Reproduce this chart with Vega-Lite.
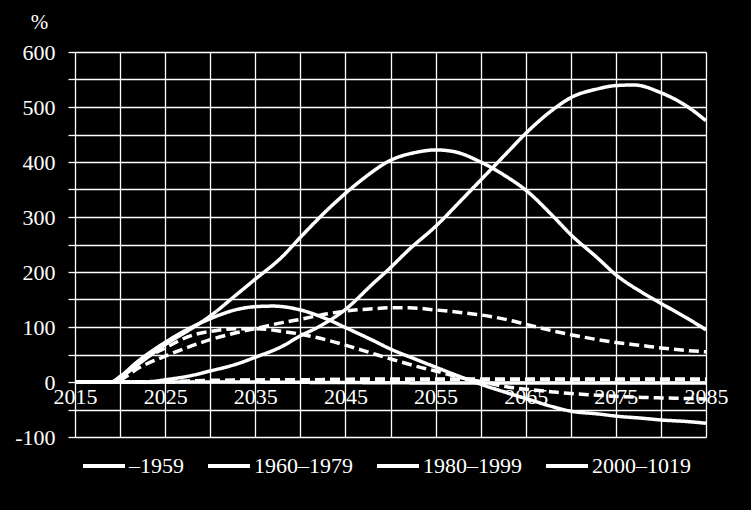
{
"$schema": "https://vega.github.io/schema/vega-lite/v6.json",
"width": 631, "height": 385,
"autosize": {"type": "none"},
"padding": {"left": 75, "top": 52, "right": 45, "bottom": 73},
"background": "black",
"config": {"view": {"stroke": null}, "font": "Liberation Serif"},
"datasets": {
"s": [
{"cohort":"2000–1019","kind":"solid","year":2015,"value":0},{"cohort":"2000–1019","kind":"solid","year":2020,"value":0},{"cohort":"2000–1019","kind":"solid","year":2023,"value":0},{"cohort":"2000–1019","kind":"solid","year":2025,"value":4},{"cohort":"2000–1019","kind":"solid","year":2028,"value":12},{"cohort":"2000–1019","kind":"solid","year":2030,"value":20},{"cohort":"2000–1019","kind":"solid","year":2033,"value":33},{"cohort":"2000–1019","kind":"solid","year":2035,"value":45},{"cohort":"2000–1019","kind":"solid","year":2038,"value":65},{"cohort":"2000–1019","kind":"solid","year":2040,"value":84},{"cohort":"2000–1019","kind":"solid","year":2042,"value":100},{"cohort":"2000–1019","kind":"solid","year":2045,"value":132},{"cohort":"2000–1019","kind":"solid","year":2048,"value":178},{"cohort":"2000–1019","kind":"solid","year":2050,"value":208},{"cohort":"2000–1019","kind":"solid","year":2052,"value":240},{"cohort":"2000–1019","kind":"solid","year":2055,"value":283},{"cohort":"2000–1019","kind":"solid","year":2058,"value":333},{"cohort":"2000–1019","kind":"solid","year":2060,"value":367},{"cohort":"2000–1019","kind":"solid","year":2063,"value":418},{"cohort":"2000–1019","kind":"solid","year":2065,"value":452},{"cohort":"2000–1019","kind":"solid","year":2068,"value":495},{"cohort":"2000–1019","kind":"solid","year":2070,"value":517},{"cohort":"2000–1019","kind":"solid","year":2073,"value":533},{"cohort":"2000–1019","kind":"solid","year":2075,"value":539},{"cohort":"2000–1019","kind":"solid","year":2077,"value":540},{"cohort":"2000–1019","kind":"solid","year":2080,"value":526},{"cohort":"2000–1019","kind":"solid","year":2083,"value":500},{"cohort":"2000–1019","kind":"solid","year":2085,"value":475},

{"cohort":"1980–1999","kind":"solid","year":2015,"value":0},{"cohort":"1980–1999","kind":"solid","year":2019,"value":0},{"cohort":"1980–1999","kind":"solid","year":2020,"value":8},{"cohort":"1980–1999","kind":"solid","year":2022,"value":32},{"cohort":"1980–1999","kind":"solid","year":2025,"value":68},{"cohort":"1980–1999","kind":"solid","year":2028,"value":98},{"cohort":"1980–1999","kind":"solid","year":2030,"value":120},{"cohort":"1980–1999","kind":"solid","year":2033,"value":160},{"cohort":"1980–1999","kind":"solid","year":2035,"value":187},{"cohort":"1980–1999","kind":"solid","year":2038,"value":228},{"cohort":"1980–1999","kind":"solid","year":2040,"value":263},{"cohort":"1980–1999","kind":"solid","year":2043,"value":313},{"cohort":"1980–1999","kind":"solid","year":2045,"value":343},{"cohort":"1980–1999","kind":"solid","year":2047,"value":370},{"cohort":"1980–1999","kind":"solid","year":2050,"value":403},{"cohort":"1980–1999","kind":"solid","year":2053,"value":418},{"cohort":"1980–1999","kind":"solid","year":2055,"value":422},{"cohort":"1980–1999","kind":"solid","year":2057,"value":419},{"cohort":"1980–1999","kind":"solid","year":2060,"value":400},{"cohort":"1980–1999","kind":"solid","year":2063,"value":372},{"cohort":"1980–1999","kind":"solid","year":2065,"value":349},{"cohort":"1980–1999","kind":"solid","year":2068,"value":302},{"cohort":"1980–1999","kind":"solid","year":2070,"value":268},{"cohort":"1980–1999","kind":"solid","year":2073,"value":225},{"cohort":"1980–1999","kind":"solid","year":2075,"value":195},{"cohort":"1980–1999","kind":"solid","year":2078,"value":162},{"cohort":"1980–1999","kind":"solid","year":2080,"value":143},{"cohort":"1980–1999","kind":"solid","year":2083,"value":115},{"cohort":"1980–1999","kind":"solid","year":2085,"value":95},

{"cohort":"1960–1979","kind":"solid","year":2015,"value":0},{"cohort":"1960–1979","kind":"solid","year":2019,"value":0},{"cohort":"1960–1979","kind":"solid","year":2020,"value":10},{"cohort":"1960–1979","kind":"solid","year":2022,"value":38},{"cohort":"1960–1979","kind":"solid","year":2025,"value":72},{"cohort":"1960–1979","kind":"solid","year":2028,"value":100},{"cohort":"1960–1979","kind":"solid","year":2030,"value":115},{"cohort":"1960–1979","kind":"solid","year":2033,"value":132},{"cohort":"1960–1979","kind":"solid","year":2035,"value":137},{"cohort":"1960–1979","kind":"solid","year":2037,"value":138},{"cohort":"1960–1979","kind":"solid","year":2040,"value":131},{"cohort":"1960–1979","kind":"solid","year":2043,"value":114},{"cohort":"1960–1979","kind":"solid","year":2045,"value":99},{"cohort":"1960–1979","kind":"solid","year":2048,"value":76},{"cohort":"1960–1979","kind":"solid","year":2050,"value":60},{"cohort":"1960–1979","kind":"solid","year":2053,"value":40},{"cohort":"1960–1979","kind":"solid","year":2055,"value":27},{"cohort":"1960–1979","kind":"solid","year":2058,"value":8},{"cohort":"1960–1979","kind":"solid","year":2060,"value":-4},{"cohort":"1960–1979","kind":"solid","year":2063,"value":-20},{"cohort":"1960–1979","kind":"solid","year":2065,"value":-30},{"cohort":"1960–1979","kind":"solid","year":2068,"value":-45},{"cohort":"1960–1979","kind":"solid","year":2070,"value":-53},{"cohort":"1960–1979","kind":"solid","year":2073,"value":-58},{"cohort":"1960–1979","kind":"solid","year":2075,"value":-62},{"cohort":"1960–1979","kind":"solid","year":2078,"value":-66},{"cohort":"1960–1979","kind":"solid","year":2080,"value":-69},{"cohort":"1960–1979","kind":"solid","year":2083,"value":-72},{"cohort":"1960–1979","kind":"solid","year":2085,"value":-75},

{"cohort":"–1959","kind":"solid","year":2015,"value":0},{"cohort":"–1959","kind":"solid","year":2030,"value":0},{"cohort":"–1959","kind":"solid","year":2045,"value":-1},{"cohort":"–1959","kind":"solid","year":2060,"value":-2},{"cohort":"–1959","kind":"solid","year":2085,"value":-2},

{"cohort":"1980–1999","kind":"dashed","year":2015,"value":0},{"cohort":"1980–1999","kind":"dashed","year":2019,"value":0},{"cohort":"1980–1999","kind":"dashed","year":2020,"value":4},{"cohort":"1980–1999","kind":"dashed","year":2022,"value":25},{"cohort":"1980–1999","kind":"dashed","year":2025,"value":47},{"cohort":"1980–1999","kind":"dashed","year":2028,"value":66},{"cohort":"1980–1999","kind":"dashed","year":2030,"value":77},{"cohort":"1980–1999","kind":"dashed","year":2033,"value":90},{"cohort":"1980–1999","kind":"dashed","year":2035,"value":97},{"cohort":"1980–1999","kind":"dashed","year":2038,"value":108},{"cohort":"1980–1999","kind":"dashed","year":2040,"value":114},{"cohort":"1980–1999","kind":"dashed","year":2043,"value":124},{"cohort":"1980–1999","kind":"dashed","year":2045,"value":129},{"cohort":"1980–1999","kind":"dashed","year":2048,"value":133},{"cohort":"1980–1999","kind":"dashed","year":2050,"value":135},{"cohort":"1980–1999","kind":"dashed","year":2052,"value":135},{"cohort":"1980–1999","kind":"dashed","year":2055,"value":131},{"cohort":"1980–1999","kind":"dashed","year":2058,"value":126},{"cohort":"1980–1999","kind":"dashed","year":2060,"value":122},{"cohort":"1980–1999","kind":"dashed","year":2063,"value":113},{"cohort":"1980–1999","kind":"dashed","year":2065,"value":105},{"cohort":"1980–1999","kind":"dashed","year":2068,"value":93},{"cohort":"1980–1999","kind":"dashed","year":2070,"value":86},{"cohort":"1980–1999","kind":"dashed","year":2073,"value":77},{"cohort":"1980–1999","kind":"dashed","year":2075,"value":72},{"cohort":"1980–1999","kind":"dashed","year":2078,"value":66},{"cohort":"1980–1999","kind":"dashed","year":2080,"value":62},{"cohort":"1980–1999","kind":"dashed","year":2083,"value":57},{"cohort":"1980–1999","kind":"dashed","year":2085,"value":55},

{"cohort":"1960–1979","kind":"dashed","year":2015,"value":0},{"cohort":"1960–1979","kind":"dashed","year":2019,"value":0},{"cohort":"1960–1979","kind":"dashed","year":2020,"value":8},{"cohort":"1960–1979","kind":"dashed","year":2022,"value":35},{"cohort":"1960–1979","kind":"dashed","year":2025,"value":62},{"cohort":"1960–1979","kind":"dashed","year":2028,"value":85},{"cohort":"1960–1979","kind":"dashed","year":2030,"value":92},{"cohort":"1960–1979","kind":"dashed","year":2033,"value":97},{"cohort":"1960–1979","kind":"dashed","year":2035,"value":97},{"cohort":"1960–1979","kind":"dashed","year":2038,"value":92},{"cohort":"1960–1979","kind":"dashed","year":2040,"value":87},{"cohort":"1960–1979","kind":"dashed","year":2043,"value":76},{"cohort":"1960–1979","kind":"dashed","year":2045,"value":67},{"cohort":"1960–1979","kind":"dashed","year":2048,"value":52},{"cohort":"1960–1979","kind":"dashed","year":2050,"value":42},{"cohort":"1960–1979","kind":"dashed","year":2053,"value":28},{"cohort":"1960–1979","kind":"dashed","year":2055,"value":20},{"cohort":"1960–1979","kind":"dashed","year":2058,"value":7},{"cohort":"1960–1979","kind":"dashed","year":2060,"value":1},{"cohort":"1960–1979","kind":"dashed","year":2063,"value":-9},{"cohort":"1960–1979","kind":"dashed","year":2065,"value":-13},{"cohort":"1960–1979","kind":"dashed","year":2068,"value":-18},{"cohort":"1960–1979","kind":"dashed","year":2070,"value":-21},{"cohort":"1960–1979","kind":"dashed","year":2073,"value":-24},{"cohort":"1960–1979","kind":"dashed","year":2075,"value":-26},{"cohort":"1960–1979","kind":"dashed","year":2078,"value":-28},{"cohort":"1960–1979","kind":"dashed","year":2080,"value":-29},{"cohort":"1960–1979","kind":"dashed","year":2083,"value":-30},{"cohort":"1960–1979","kind":"dashed","year":2085,"value":-31},

{"cohort":"–1959","kind":"dashed","year":2015,"value":0},{"cohort":"–1959","kind":"dashed","year":2025,"value":1},{"cohort":"–1959","kind":"dashed","year":2030,"value":3},{"cohort":"–1959","kind":"dashed","year":2040,"value":4},{"cohort":"–1959","kind":"dashed","year":2050,"value":5},{"cohort":"–1959","kind":"dashed","year":2085,"value":5},

{"cohort":"2000–1019","kind":"dashed","year":2015,"value":0},{"cohort":"2000–1019","kind":"dashed","year":2025,"value":0},{"cohort":"2000–1019","kind":"dashed","year":2030,"value":2},{"cohort":"2000–1019","kind":"dashed","year":2040,"value":4},{"cohort":"2000–1019","kind":"dashed","year":2050,"value":5},{"cohort":"2000–1019","kind":"dashed","year":2085,"value":5}
]
},
"data": {"name": "s"},
"mark": {"type": "line", "strokeWidth": 3.5, "interpolate": "monotone"},
"encoding": {
  "x": {"field": "year", "type": "quantitative",
    "scale": {"domain": [2015, 2085], "nice": false, "zero": false},
    "axis": {"values": [2015,2020,2025,2030,2035,2040,2045,2050,2055,2060,2065,2070,2075,2080,2085],
      "labelExpr": "(datum.value - 2015) % 10 === 0 ? '' + datum.value : ''",
      "offset": -55, "ticks": false, "domain": true, "domainColor": "white", "domainWidth": 1.5,
      "grid": true, "gridColor": "white", "gridWidth": 1.3, "gridOpacity": 1,
      "labelColor": "white", "labelFont": "Liberation Serif", "labelFontSize": 22,
      "labelPadding": 4, "labelBaseline": "top", "labelFlush": false, "labelOverlap": false, "title": null}},
  "y": {"field": "value", "type": "quantitative",
    "scale": {"domain": [-100, 600], "nice": false},
    "axis": {"values": [-100,-50,0,50,100,150,200,250,300,350,400,450,500,550,600],
      "labelExpr": "datum.value % 100 === 0 ? '' + datum.value : ''",
      "domain": false, "ticks": true, "tickColor": "white", "tickSize": 7, "tickWidth": 1.3,
      "grid": true, "gridColor": "white", "gridWidth": 1.3, "gridOpacity": 1,
      "labelColor": "white", "labelFont": "Liberation Serif", "labelFontSize": 22, "labelPadding": 13,
      "labelOverlap": false,
      "title": "%", "titleAngle": 0, "titleX": -36, "titleY": -30, "titleColor": "white",
      "titleFont": "Liberation Serif", "titleFontSize": 21, "titleFontWeight": "normal",
      "titleAlign": "center", "titleBaseline": "middle"}},
  "color": {"field": "cohort", "type": "nominal",
    "scale": {"domain": ["–1959", "1960–1979", "1980–1999", "2000–1019"], "range": ["white", "white", "white", "white"]},
    "legend": {"orient": "none", "legendX": 6, "legendY": 391, "direction": "horizontal", "title": null,
      "symbolType": "stroke", "symbolSize": 1764, "symbolStrokeWidth": 4, "symbolStrokeColor": "white",
      "labelColor": "white", "labelFont": "Liberation Serif", "labelFontSize": 22, "labelOffset": 2,
      "columnPadding": 16, "labelLimit": 300}},
  "strokeDash": {"field": "kind", "type": "nominal",
    "scale": {"domain": ["solid", "dashed"], "range": [[1, 0], [10, 5]]}, "legend": null}
}
}
